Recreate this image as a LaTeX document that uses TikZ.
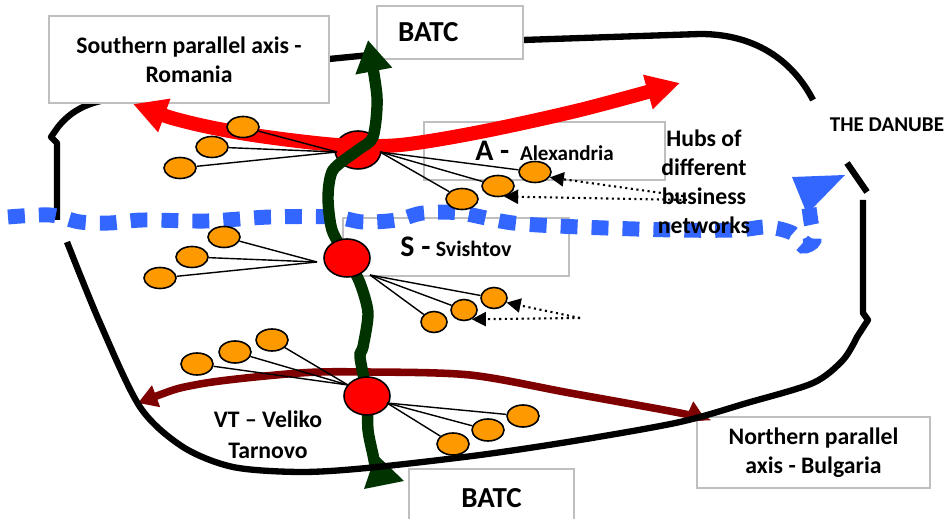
\documentclass[tikz,border=0pt]{standalone}
\usepackage{fontspec}
\setmainfont{Carlito}
\usetikzlibrary{arrows.meta,shapes.geometric}

\definecolor{spotorange}{HTML}{FF9900}
\definecolor{batcgreen}{HTML}{003300}
\definecolor{bgmaroon}{HTML}{7F0000}
\definecolor{danubeblue}{HTML}{3366FF}

\newdimen\pxu
\pxu=0.02cm

\begin{document}
\begin{tikzpicture}[x=0.02cm, y=-0.02cm,
  box/.style={draw=black!25, line width=1.1pt, fill=white, inner sep=0pt,
    align=center, font=\bfseries\fontsize{13.5}{16.5}\selectfont},
  note/.style={inner sep=0pt, align=center, font=\bfseries\fontsize{13.5}{16.5}\selectfont},
  border/.style={line width=3.6pt, line join=round},
  hub/.style={ellipse, draw, line width=0.9pt, fill=red, inner sep=0pt,
    minimum width=46\pxu, minimum height=38\pxu},
  spot/.style={ellipse, draw, line width=0.9pt, fill=spotorange, inner sep=0pt,
    minimum width=32\pxu, minimum height=21\pxu},
  small spot/.style={spot, minimum width=26\pxu},
  fan/.style={line width=0.8pt},
  pointer/.style={dotted, line width=1.2pt, -{Triangle[length=8pt,width=8pt]}},
  romania/.style={red, line width=8pt,
    {Triangle[length=19pt,width=19pt]}-{Triangle[length=19pt,width=19pt]}},
  bulgaria/.style={bgmaroon, line width=4.3pt,
    {Triangle[length=11pt,width=12.5pt]}-{Triangle[length=11pt,width=12.5pt]}},
  batc/.style={batcgreen, line width=6.5pt, -{Triangle[length=18pt,width=20pt]}},
  danube/.style={danubeblue, line width=8.5pt, dash pattern=on 9.6pt off 8pt}]

  \useasboundingbox (0,0) rectangle (947,519);

  % Outline, upper part
  \draw[border] (57,220) -- (57,143) -- (51,137) -- (58,127)
    .. controls (70,112) and (85,104) .. (105,100) -- (329,59) -- (523,40)
    -- (700,34) .. controls (760,34) and (795,65) .. (813,100);

  % Define boxes
  \node[box, minimum width=280\pxu, minimum height=87\pxu] (south) at (189,59.5)
    {Southern parallel axis -\\Romania};
  \node[box, minimum width=146\pxu, minimum height=53\pxu, text width=104\pxu,
    align=left, font=\bfseries\fontsize{16.5}{19}\selectfont] (batcN) at (450,32.5) {BATC};
  \node[box, minimum width=241\pxu, minimum height=58\pxu] (alex) at (544.5,151)
    {{\fontsize{17}{20}\selectfont A -}\ \ {\fontsize{12}{15}\selectfont Alexandria}};
  \node[box, minimum width=226\pxu, minimum height=58\pxu] (svish) at (456,247)
    {{\fontsize{17}{20}\selectfont S -} {\fontsize{12.5}{15}\selectfont Svishtov}};
  \node[box, minimum width=165\pxu, minimum height=59\pxu,
    font=\bfseries\fontsize{16.5}{19}\selectfont] (batcS) at (491.5,498.5) {BATC};
  \node[box, minimum width=233\pxu, minimum height=71\pxu] (north) at (813.5,452.5)
    {Northern parallel\\axis - Bulgaria};

  % The Danube
  \draw[danube] plot[smooth, tension=0.5] coordinates {(8,217) (50,215) (80,222)
    (110,223) (143,220) (207,221) (270,217) (333,217) (363,222) (397,220) (423,213)
    (460,213) (513,223) (580,227) (673,230) (737,230) (767,227) (792,233) (803,246)
    (814,240) (811,222) (808,200)};
  \fill[danubeblue] (792,177) -- (845,175) -- (807,214) -- cycle;

  % Hubs
  \coordinate (posA) at (358,150);
  \coordinate (posS) at (347,258);
  \coordinate (posVT) at (367,396);
  \node[hub] (hubA) at (posA) {};

  % Parallel axes
  \draw[romania] plot[smooth, tension=0.5] coordinates {(133,104) (187,122)
    (253,135) (337,145) (400,145) (480,132) (580,110) (680,83)};
  \draw[bulgaria] plot[smooth, tension=0.5] coordinates {(138,403) (200,384)
    (300,373) (367,372) (470,375) (570,393) (680,413) (706,420)};

  % BATC corridor
  \fill[batcgreen] (364,489) -- (404,481) -- (376,454) -- cycle;
  \draw[batc] plot[smooth, tension=0.45] coordinates {(376,470) (373,455) (368,430)
    (posVT) (360,357) (363,347) (368,313) (360,283) (posS) (332,230) (328,197)
    (333,170) (posA) (373,137) (377,97) (368,40)};

  \node[hub] (hubS) at (posS) {};
  \node[hub] (hubVT) at (posVT) {};

  % Business networks
  \node[spot] (aL1) at (243,127) {};
  \node[spot] (aL2) at (212,147) {};
  \node[spot] (aL3) at (180,168) {};
  \node[spot] (aR1) at (462,199) {};
  \node[spot] (aR2) at (498,186) {};
  \node[spot] (aR3) at (535,172) {};
  \node[spot] (sL1) at (224,237) {};
  \node[spot] (sL2) at (192,257) {};
  \node[spot] (sL3) at (160,278) {};
  \node[small spot] (sR1) at (434,322) {};
  \node[small spot] (sR2) at (464,310) {};
  \node[small spot] (sR3) at (494,298) {};
  \node[spot, minimum height=22\pxu] (vL1) at (272,340) {};
  \node[spot, minimum height=22\pxu] (vL2) at (235,352) {};
  \node[spot, minimum height=22\pxu] (vL3) at (197,364) {};
  \node[spot, minimum height=22\pxu] (vR1) at (453,444) {};
  \node[spot, minimum height=22\pxu] (vR2) at (488,430) {};
  \node[spot, minimum height=22\pxu] (vR3) at (523,416) {};

  \coordinate (fanAL) at (337,152);
  \coordinate (fanAR) at (380,152);
  \coordinate (fanSL) at (317,262);
  \coordinate (fanSR) at (370,275);
  \coordinate (fanVL) at (348,385);
  \coordinate (fanVR) at (387,403);
  \foreach \s in {aL1,aL2,aL3} \draw[fan] (fanAL) -- (\s);
  \foreach \s in {aR1,aR2,aR3} \draw[fan] (fanAR) -- (\s);
  \foreach \s in {sL1,sL2,sL3} \draw[fan] (fanSL) -- (\s);
  \foreach \s in {sR1,sR2,sR3} \draw[fan] (fanSR) -- (\s);
  \foreach \s in {vL1,vL2,vL3} \draw[fan] (fanVL) -- (\s);
  \foreach \s in {vR1,vR2,vR3} \draw[fan] (fanVR) -- (\s);

  % Pointers to the hubs
  \coordinate (tagA1) at (683,196);
  \coordinate (tagA2) at (687,200);
  \coordinate (tagS) at (580,318);
  \draw[pointer] (tagA1) -- (aR3.-20);
  \draw[pointer] (tagA2) -- (aR2.-60);
  \draw[pointer] (tagS) -- (sR3.-20);
  \draw[pointer] (tagS) -- (sR2.-50);

  % Outline, lower part
  \draw[border] (847,163) -- (867,192);
  \draw[border] (863,200) -- (863,313) -- (868,320) -- plot[smooth, tension=0.5]
    coordinates {(857,337) (843,360) (813,383) (747,403) (680,422) (580,440)
    (480,455) (367,468) (300,472) (233,467) (183,447) (140,407) (100,323) (67,242)};

  % Labels
  \node[note] (hubsTxt) at (704,182) {Hubs of\\different\\business\\networks};
  \node[note, font=\bfseries\fontsize{12}{14}\selectfont] (danubeTxt) at (887,125) {THE DANUBE};
  \node[note, font=\bfseries\fontsize{13.5}{17.5}\selectfont] (vtTxt) at (268,435)
    {VT – Veliko\\Tarnovo};
\end{tikzpicture}
\end{document}
